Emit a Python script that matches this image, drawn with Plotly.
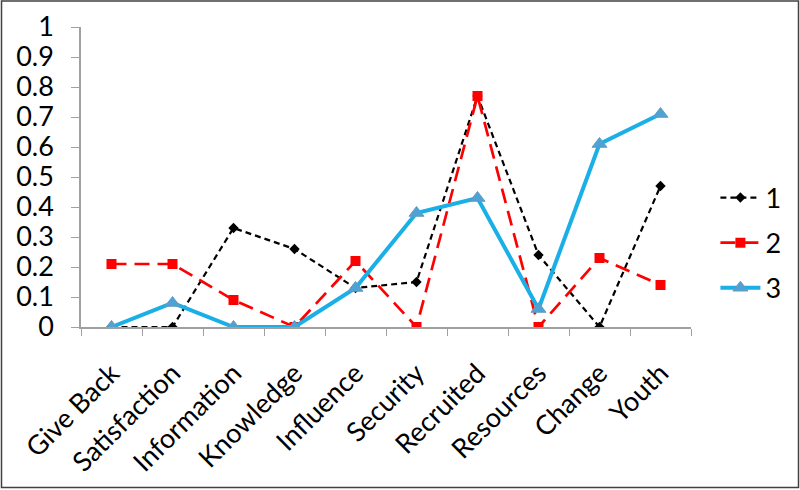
import plotly.graph_objects as go

categories = ["Give Back", "Satisfaction", "Information", "Knowledge", "Influence",
              "Security", "Recruited", "Resources", "Change", "Youth"]
series1 = [0, 0, 0.33, 0.26, 0.13, 0.15, 0.77, 0.24, 0, 0.47]
series2 = [0.21, 0.21, 0.09, 0, 0.22, 0, 0.77, 0, 0.23, 0.14]
series3 = [0, 0.08, 0, 0, 0.13, 0.38, 0.43, 0.06, 0.61, 0.71]
y_ticks = [0, 0.1, 0.2, 0.3, 0.4, 0.5, 0.6, 0.7, 0.8, 0.9, 1]
y_tick_labels = ["0", "0.1", "0.2", "0.3", "0.4", "0.5", "0.6", "0.7", "0.8", "0.9", "1"]

FONT = "Lato"
W, H = 800, 490
L, R, T, B = 81, 109, 27, 163

fig = go.Figure()
fig.add_trace(go.Scatter(x=categories, y=series1, name="1", mode="lines+markers",
                         legendgroup="1",
                         line=dict(color="black", width=2.2, dash="6px,4px"),
                         marker=dict(symbol="diamond", size=8, color="black")))
fig.add_trace(go.Scatter(x=categories, y=series2, name="2", mode="lines+markers",
                         legendgroup="2",
                         line=dict(color="#FF0000", width=2.7, dash="15px,8px"),
                         marker=dict(symbol="square", size=10, color="#FF0000")))
fig.add_trace(go.Scatter(x=categories, y=series3, name="3", mode="lines+markers",
                         legendgroup="3",
                         line=dict(color="#1AAFE6", width=4),
                         marker=dict(symbol="triangle-up", size=13, color="#4BA3D6",
                                     line=dict(color="#6A9BB8", width=1))))

pw = W - L - R
ph = H - T - B
fig.add_shape(type="rect", xref="paper", yref="paper",
              x0=(1.5 - L) / pw, x1=(W - 1.5 - L) / pw,
              y0=-(H - 2.5 - T - ph) / ph, y1=1 + (T - 1) / ph,
              line=dict(color="#404040", width=1.5), fillcolor="rgba(0,0,0,0)")

fig.update_layout(
    width=W, height=H,
    margin=dict(l=L, r=R, t=T, b=B, autoexpand=False),
    paper_bgcolor="white", plot_bgcolor="white",
    font=dict(family=FONT, size=27, color="black"),
    showlegend=True,
    legend=dict(x=1.04, y=(327 - 243) / 300, xanchor="left", yanchor="middle",
                font=dict(size=27), itemwidth=40, tracegroupgap=7,
                bgcolor="rgba(0,0,0,0)"),
    xaxis=dict(type="category", range=[-0.5, 9.5], showgrid=False, automargin=False,
               showline=True, linecolor="#A0A0A0", linewidth=1.5,
               ticks="outside", tickson="boundaries", ticklen=7,
               tickcolor="#A0A0A0", tickangle=-45, ticklabelstandoff=18,
               tickfont=dict(size=27)),
    yaxis=dict(range=[0, 1], tickvals=y_ticks, ticktext=y_tick_labels, automargin=False,
               showgrid=False, zeroline=False, showline=True,
               linecolor="#A0A0A0", linewidth=1.5, ticklabelstandoff=12,
               ticks="outside", ticklen=8, tickcolor="#A0A0A0",
               tickfont=dict(size=27)),
)

fig.write_html("out.html", config={"displayModeBar": False},
               post_script="document.body.style.margin='0px';document.body.style.overflow='hidden';")
